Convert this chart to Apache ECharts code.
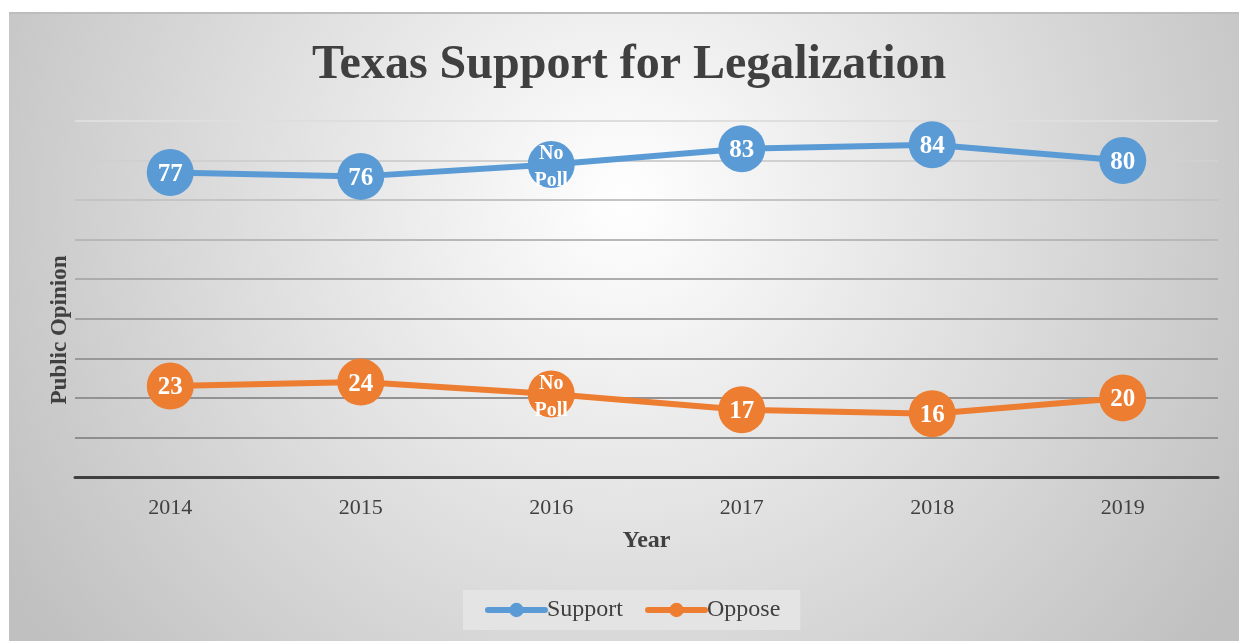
<!DOCTYPE html>
<html>
<head>
<meta charset="utf-8">
<script src="https://cdn.jsdelivr.net/npm/echarts@6/dist/echarts.min.js"></script>
<style>
html,body{margin:0;padding:0;background:#fff;}
#chart{width:1239px;height:641px;}
</style>
</head>
<body>
<div id="chart"></div>
<script>
var years = ['2014', '2015', '2016', '2017', '2018', '2019'];
var support = [77, 76, 79, 83, 84, 80];
var oppose = [23, 24, 21, 17, 16, 20];
var noPollYear = '2016';
var titleText = 'Texas Support for Legalization';

var serif = "'Liberation Serif', 'Times New Roman', serif";
var chart = echarts.init(document.getElementById('chart'), null, {renderer: 'canvas'});

function buildData(values) {
  return values.map(function (v, i) {
    if (years[i] === noPollYear) {
      return {value: v, label: {formatter: 'No\nPoll', fontSize: 20, lineHeight: 27, offset: [0, 3]}};
    }
    return v;
  });
}

function seriesOf(name, values, color) {
  return {
    name: name,
    type: 'line',
    data: buildData(values),
    symbol: 'circle',
    symbolSize: 47,
    itemStyle: {color: color},
    lineStyle: {color: color, width: 6},
    label: {
      show: true,
      position: 'inside',
      offset: [0, 2],
      color: '#ffffff',
      fontFamily: serif,
      fontWeight: 'bold',
      fontSize: 25
    },
    emphasis: {disabled: true},
    z: 3
  };
}

chart.setOption({
  animation: false,
  backgroundColor: '#ffffff',
  graphic: [
    {
      type: 'rect',
      z: -10,
      silent: true,
      shape: {x: 9, y: 12, width: 1230, height: 629},
      style: {
        fill: {
          type: 'radial', x: 0.5, y: 0.3, r: 1.15,
          colorStops: [{offset: 0, color: '#ffffff'}, {offset: 1, color: '#c0c0c0'}]
        }
      }
    },
    {
      type: 'rect',
      z: -9,
      silent: true,
      shape: {x: 9, y: 12, width: 1230, height: 2},
      style: {fill: '#bdbdbd'}
    },
    {
      type: 'text',
      silent: true,
      x: 60,
      y: 330,
      rotation: Math.PI / 2,
      style: {
        text: 'Public Opinion',
        fontFamily: serif,
        fontWeight: 'bold',
        fontSize: 23,
        fill: '#404040',
        align: 'center',
        verticalAlign: 'middle'
      }
    }
  ],
  title: {
    text: titleText,
    left: 307,
    top: 37,
    textStyle: {
      fontFamily: serif,
      fontWeight: 'bold',
      fontSize: 48,
      color: '#404040'
    }
  },
  legend: {
    bottom: 11,
    left: 463,
    backgroundColor: '#e4e4e4',
    padding: [8, 20, 8, 22],
    itemWidth: 57,
    itemHeight: 18,
    itemGap: 22,
    lineStyle: {width: 6, cap: 'round'},
    textStyle: {
      fontFamily: serif,
      fontSize: 24,
      color: '#404040',
      padding: [0, 0, 0, -3]
    },
    data: ['Support', 'Oppose']
  },
  grid: {left: 75, right: 21, top: 121, bottom: 164, containLabel: false},
  xAxis: {
    type: 'category',
    data: years,
    boundaryGap: true,
    name: 'Year',
    nameLocation: 'middle',
    nameGap: 52,
    nameTextStyle: {fontFamily: serif, fontWeight: 'bold', fontSize: 24, color: '#404040'},
    axisLine: {lineStyle: {color: '#404040', width: 3}},
    axisTick: {show: false},
    axisLabel: {fontFamily: serif, fontSize: 22, color: '#404040', margin: 20},
    z: 2
  },
  yAxis: {
    type: 'value',
    min: 0,
    max: 90,
    interval: 10,
    axisLine: {show: false},
    axisTick: {show: false},
    axisLabel: {show: false},
    splitLine: {
      lineStyle: {
        width: 2,
        color: ['#8c8c8c', '#8e8e8e', '#929292', '#999999', '#a2a2a2', '#acacac', '#b8b8b8', '#c4c4c4', '#d0d0d0', '#dedede']
      }
    }
  },
  series: [
    seriesOf('Support', support, '#5b9bd5'),
    seriesOf('Oppose', oppose, '#ed7d31')
  ]
});
</script>
</body>
</html>
